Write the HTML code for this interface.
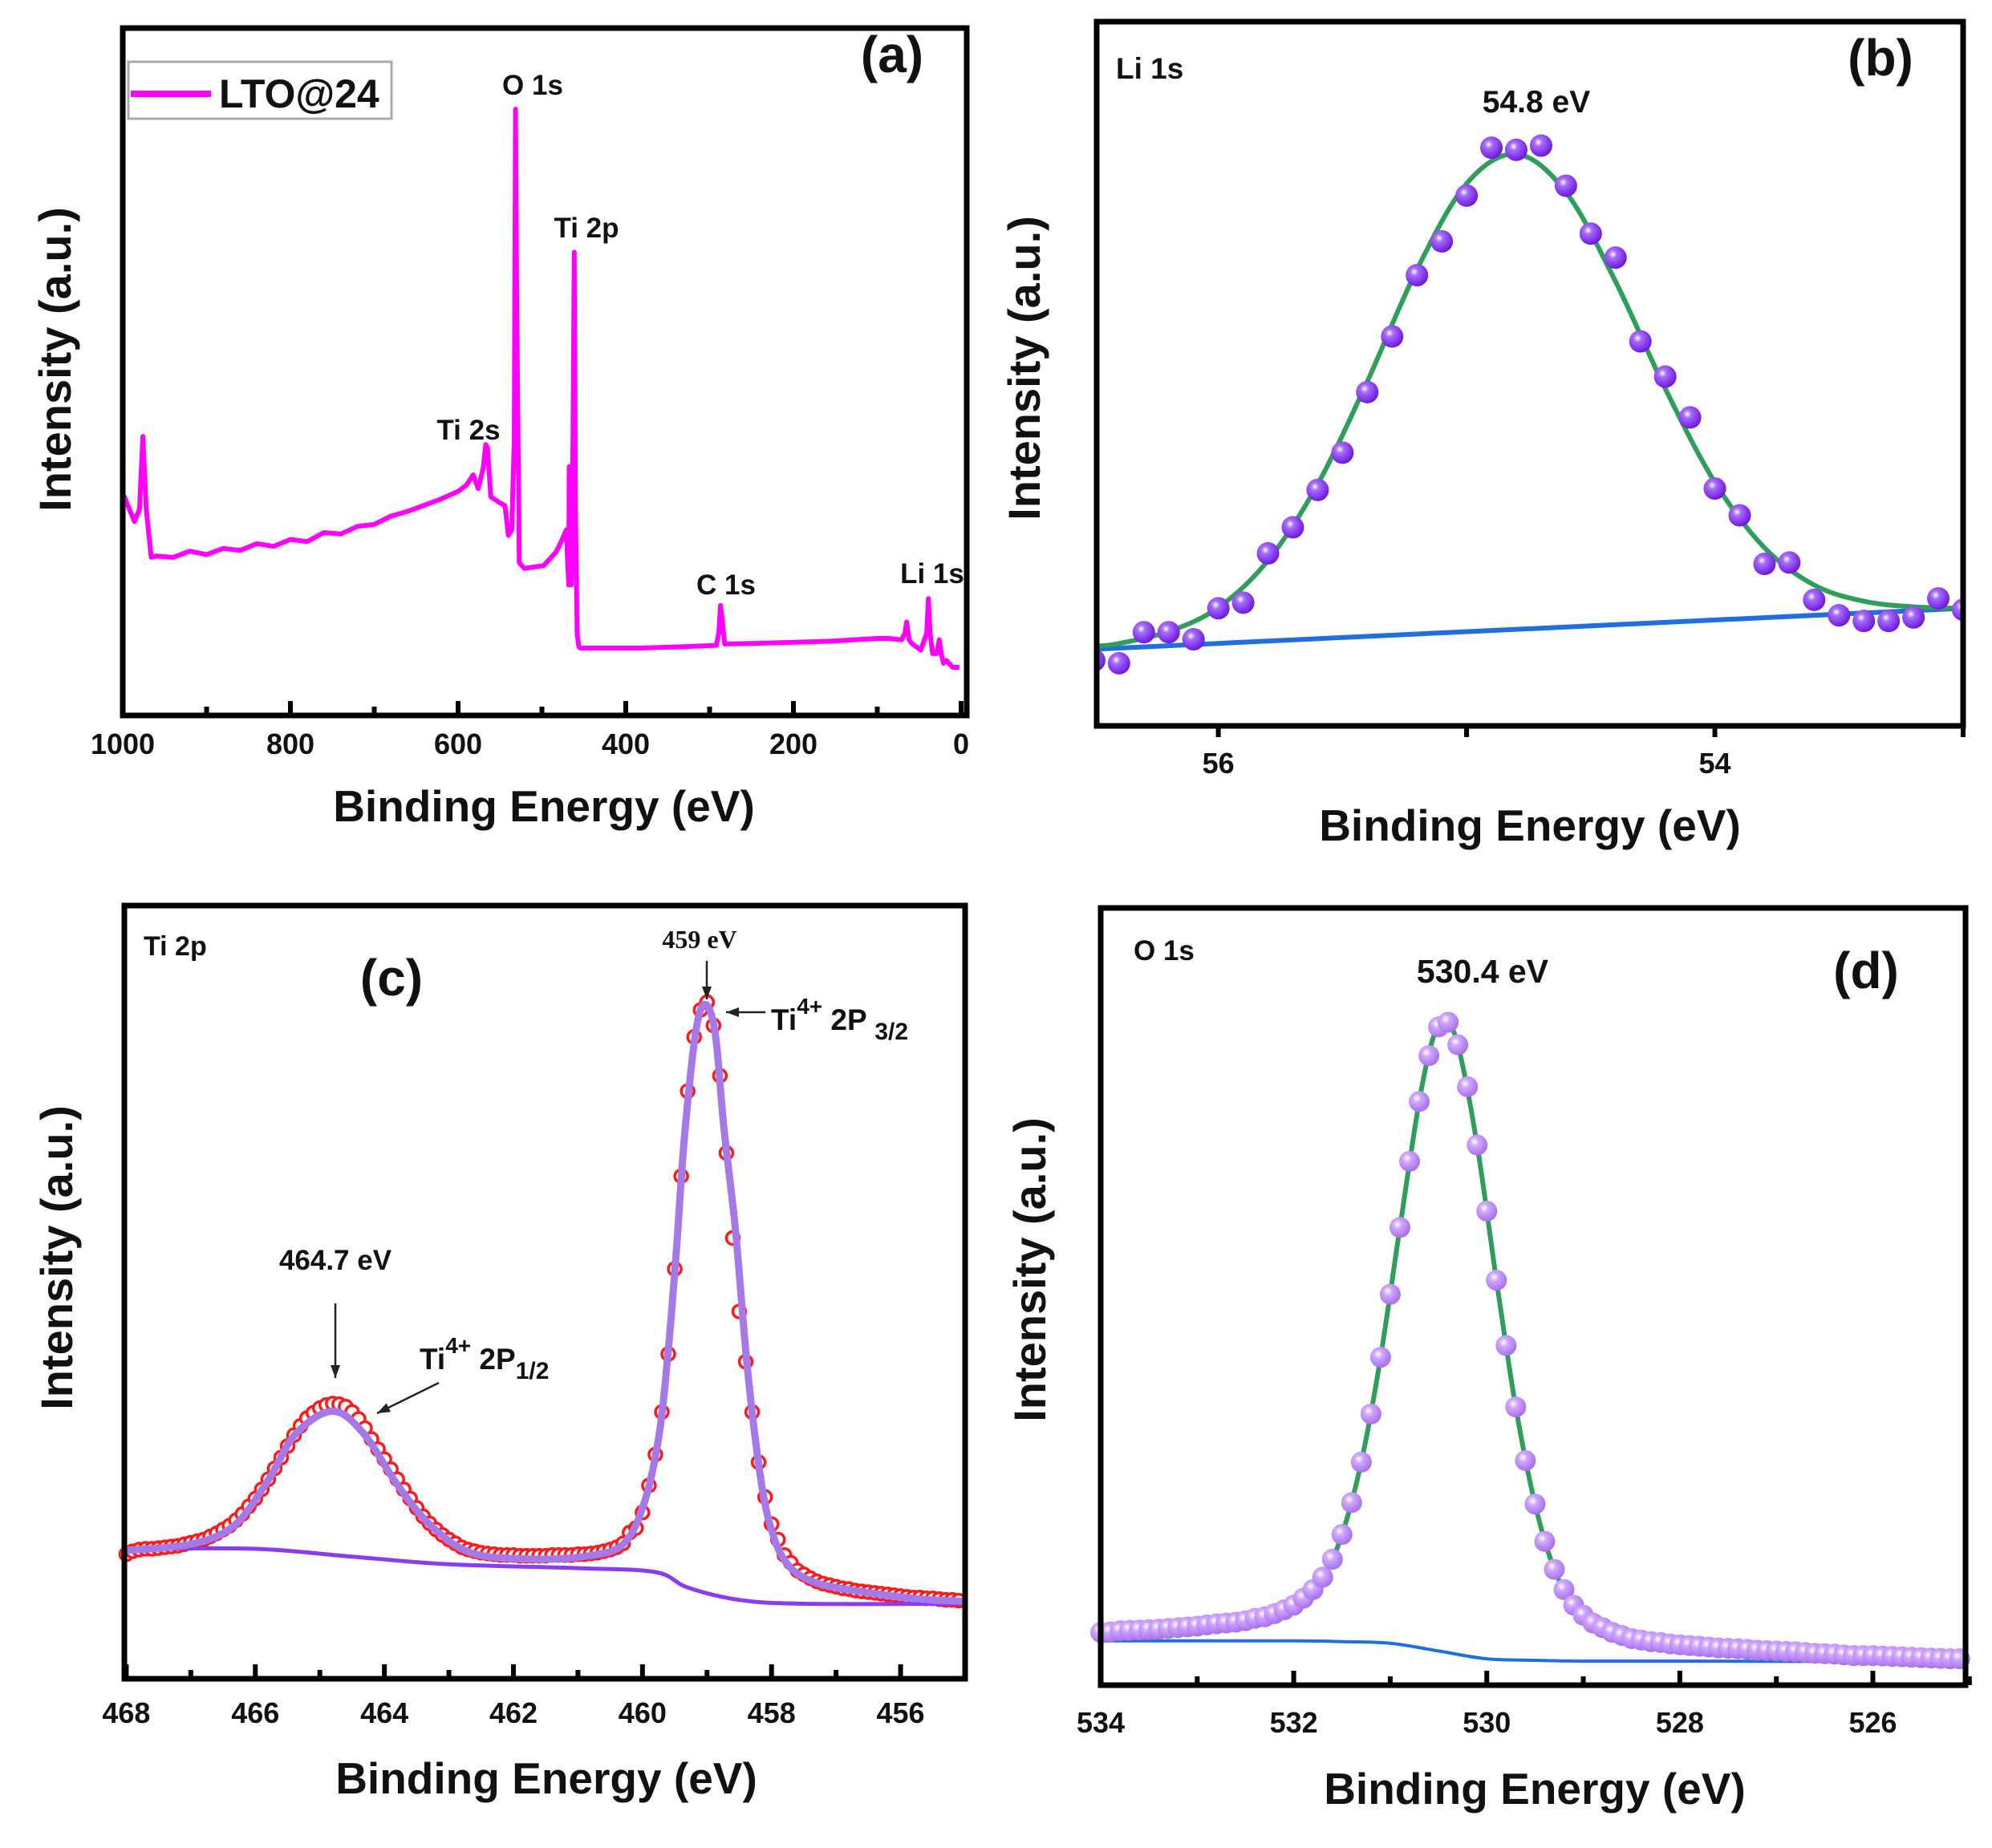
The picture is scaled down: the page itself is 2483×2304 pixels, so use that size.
<!DOCTYPE html>
<html><head><meta charset="utf-8"><title>XPS spectra LTO@24</title>
<style>
html,body{margin:0;padding:0;background:#fff;}
svg{display:block;}
text{font-family:"Liberation Sans",sans-serif;font-weight:bold;fill:#111;}
.serif{font-family:"Liberation Serif",serif;}
</style></head>
<body>
<svg id="fig" xmlns="http://www.w3.org/2000/svg" width="2483" height="2304" viewBox="0 0 2483 2304">
<defs>
<radialGradient id="gB" cx="0.38" cy="0.35" r="0.7"><stop offset="0" stop-color="#ffffff"/><stop offset="0.25" stop-color="#a66cff"/><stop offset="1" stop-color="#6a10d8"/></radialGradient>
<radialGradient id="gD" cx="0.38" cy="0.35" r="0.7"><stop offset="0" stop-color="#ffffff"/><stop offset="0.3" stop-color="#cfa6ff"/><stop offset="1" stop-color="#a56ae8"/></radialGradient>
</defs>
<g id="layer"></g>
</svg>
<script>
// ---------- Panel (a) survey data ----------
const aEnergy = [1000,998,986,980,976,972,966,960,940,920,900,880,860,840,820,800,780,760,740,720,700,680,660,640,620,600,590,582,576,570,567,565,561,551,544,540,536,533,531.5,530,527,521,498,483,475,471,468,467.5,466,465,463,461.4,460,458,456,454.5,420,384,330,292,289,287,285,282,240,155,100,86,71,67,65,62,59,48,41,39,37,34,29,26,23.6,21,17.5,10,2,-6.7];
const aIntensity = [31,31.8,28.2,30,40.6,30,23,23.2,23.0,23.9,23.4,24.3,24.0,25.0,24.6,25.6,25.3,26.6,26.4,27.5,27.8,29.0,29.7,30.6,31.5,32.6,33.5,35,33,36,39.4,39,31.8,31,30.5,26.2,27,40,88.2,60,22.2,21.4,21.8,23.8,25.8,27,19,36.2,30,19,40,67.4,30,12,10,9.8,9.8,9.8,10,10.2,12,16,14,10.4,10.5,10.8,11.2,11.2,11,12,13.6,11,10.5,9.5,12,17,12,9,9,11,9,7.6,8,7,7];
const aXTicks = [1000,800,600,400,200,0];
const aXMinor = [900,700,500,300,100];

// ---------- Panel (b) Li 1s ----------
const bData = [9.3,8.9,13.3,13.3,12.3,16.7,17.5,24.5,28.2,33.5,38.8,47.4,55.3,64.0,68.8,75.3,82.1,81.8,82.4,76.7,69.9,66.5,54.6,49.6,43.8,33.7,29.9,23.0,23.2,17.9,15.7,14.9,14.9,15.4,18.1,16.5];
const bDataEnergy = [56.5,56.4,56.3,56.2,56.1,56.0,55.9,55.8,55.7,55.6,55.5,55.4,55.3,55.2,55.1,55.0,54.9,54.8,54.7,54.6,54.5,54.4,54.3,54.2,54.1,54.0,53.9,53.8,53.7,53.6,53.5,53.4,53.3,53.2,53.1,53.0];
const bFitEnergy = [56.49,56.4,56.2,56.0,55.8,55.6,55.4,55.2,55.0,54.8,54.6,54.4,54.2,54.0,53.8,53.6,53.4,53.2,53.0];
const bFit = [11.3,11.7,13.4,16.8,23.5,34.3,48.9,64.8,77.0,81.2,75.8,63.1,47.9,34.6,25.3,20.0,17.7,16.9,16.7];
const bBaseEnergy = [56.49,53.0];
const bBase = [10.9,16.7];
const bXTicks = [56,55,54,53];
const bXLabels = ["56","","54",""];

// ---------- Panel (c) Ti 2p ----------
const cDataEnergy = [468,467.9,467.8,467.7,467.6,467.5,467.4,467.3,467.2,467.1,467,466.9,466.8,466.7,466.6,466.5,466.4,466.3,466.2,466.1,466,465.9,465.8,465.7,465.6,465.5,465.4,465.3,465.2,465.1,465,464.9,464.8,464.7,464.6,464.5,464.4,464.3,464.2,464.1,464,463.9,463.8,463.7,463.6,463.5,463.4,463.3,463.2,463.1,463,462.9,462.8,462.7,462.6,462.5,462.4,462.3,462.2,462.1,462,461.9,461.8,461.7,461.6,461.5,461.4,461.3,461.2,461.1,461,460.9,460.8,460.7,460.6,460.5,460.4,460.3,460.2,460.1,460,459.9,459.8,459.7,459.6,459.5,459.4,459.3,459.2,459.1,459,458.9,458.8,458.7,458.6,458.5,458.4,458.3,458.2,458.1,458,457.9,457.8,457.7,457.6,457.5,457.4,457.3,457.2,457.1,457,456.9,456.8,456.7,456.6,456.5,456.4,456.3,456.2,456.1,456,455.9,455.8,455.7,455.6,455.5,455.4,455.3,455.2,455.1];
const cData = [16.1,16.5,16.7,16.8,16.8,16.9,17.0,17.1,17.2,17.4,17.6,17.8,18.0,18.4,18.8,19.3,19.8,20.5,21.3,22.3,23.3,24.5,25.8,27.2,28.6,30.1,31.5,32.7,33.7,34.4,35.0,35.4,35.6,35.5,35.2,34.5,33.6,32.4,31.0,29.7,28.4,27.1,25.8,24.5,23.3,22.1,21.0,20.1,19.3,18.6,18.0,17.5,17.0,16.7,16.5,16.3,16.2,16.1,16.0,16.0,16.0,15.9,15.9,15.9,15.9,15.9,16.0,16.0,16.0,16.0,16.1,16.1,16.2,16.3,16.5,16.7,17.0,17.5,18.9,19.5,21.5,25.0,29.0,34.5,42.0,53.0,65.0,76.0,83.0,86.5,87.5,84.5,78.0,68.0,57.0,47.5,41.0,34.5,28.0,23.5,20.0,18.0,16.0,15.0,14.0,13.5,13.0,12.6,12.3,12.1,11.9,11.7,11.6,11.4,11.3,11.2,11.1,11.0,10.9,10.8,10.7,10.6,10.5,10.5,10.4,10.4,10.3,10.2,10.2,10.1];
const cFitEnergy = [468,467.0,466.33,465.8,465.37,464.8,464.32,463.8,463.28,462.66,461.8,460.92,460.3,459.96,459.74,459.61,459.48,459.35,459.17,459.02,458.87,458.74,458.56,458.39,458.21,458.04,457.78,457.34,456.56,455.69,455.0];
const cFit = [16.6,17.4,19.8,25.7,31.7,34.6,31.7,25.1,19.8,16.3,15.5,15.8,17.4,23.1,31.7,41.6,54.8,70.0,83.9,87.2,83.3,71.4,58.1,41.6,28.4,20.4,15.1,12.5,11.2,10.3,10.0];
const cBaseEnergy = [468,466,464.5,463,461,459.8,459.3,458.5,457.5,455];
const cBase = [16.8,16.8,15.8,14.8,14.3,13.8,11.8,10.2,9.7,9.7];
const cXTicks = [468,466,464,462,460,458,456];
const cXMinor = [467,465,463,461,459,457];

// ---------- Panel (d) O 1s ----------
const dDataEnergy = [534,533.9,533.8,533.7,533.6,533.5,533.4,533.3,533.2,533.1,533,532.9,532.8,532.7,532.6,532.5,532.4,532.3,532.2,532.1,532,531.9,531.8,531.7,531.6,531.5,531.4,531.3,531.2,531.1,531,530.9,530.8,530.7,530.6,530.5,530.4,530.3,530.2,530.1,530,529.9,529.8,529.7,529.6,529.5,529.4,529.3,529.2,529.1,529,528.9,528.8,528.7,528.6,528.5,528.4,528.3,528.2,528.1,528,527.9,527.8,527.7,527.6,527.5,527.4,527.3,527.2,527.1,527,526.9,526.8,526.7,526.6,526.5,526.4,526.3,526.2,526.1,526,525.9,525.8,525.7,525.6,525.5,525.4,525.3,525.2,525.1];
const dData = [6.8,6.85,7.0,7.05,7.1,7.15,7.2,7.3,7.4,7.5,7.6,7.75,7.9,8.0,8.1,8.3,8.6,8.8,9.2,9.7,10.3,11.2,12.3,13.9,16.2,19.4,23.5,28.7,34.9,42.2,50.3,58.9,67.4,75.1,81.0,84.7,85.3,82.4,77.0,69.5,61.0,52.1,43.7,35.8,28.9,23.3,18.5,14.9,12.3,10.3,9.0,8.0,7.4,6.8,6.4,6.0,5.8,5.6,5.5,5.3,5.2,5.1,5.0,4.9,4.8,4.75,4.7,4.6,4.5,4.45,4.4,4.35,4.3,4.2,4.1,4.05,4.0,3.9,3.8,3.8,3.8,3.75,3.7,3.65,3.6,3.55,3.5,3.45,3.4,3.4];
const dFitEnergy = [534,533,532.5,532,531.7,531.5,531.3,531.1,530.9,530.7,530.55,530.42,530.3,530.1,529.9,529.7,529.5,529.3,529.1,528.9,528.6,528,527,526,525.05];
const dFit = [6.8,7.6,8.3,10.3,13.9,19.4,28.7,42.2,58.9,75.1,83.5,85.0,82.4,69.5,52.1,35.8,23.3,14.9,10.3,8.0,6.4,5.2,4.4,3.8,3.4];
const dBaseEnergy = [534,532,531.5,531,530.5,530,529.5,529,528,525.05];
const dBase = [5.7,5.7,5.6,5.4,4.4,3.4,3.2,3.1,3.1,3.0];
const dXTicks = [534,532,530,528,526];
const dXMinor = [533,531,529,527,525];

const NS = "http://www.w3.org/2000/svg";
const layer = document.getElementById('layer');
function el(tag, attrs, parent){
  const e = document.createElementNS(NS, tag);
  for (const k in attrs) e.setAttribute(k, attrs[k]);
  (parent||layer).appendChild(e);
  return e;
}
function scales(p){
  return {
    x: v => p.x0 + (v - p.d0)/(p.d1 - p.d0)*(p.x1 - p.x0),
    y: v => p.yb - v/100*(p.yb - p.yt)
  };
}
function linePath(xs, ys, s){
  return xs.map((v,i)=>(i?'L':'M')+s.x(v).toFixed(1)+' '+s.y(ys[i]).toFixed(1)).join(' ');
}
function smoothPath(xs, ys, s){
  const P = xs.map((v,i)=>[s.x(v), s.y(ys[i])]);
  let d = 'M'+P[0][0].toFixed(1)+' '+P[0][1].toFixed(1);
  for (let i=0;i<P.length-1;i++){
    const p0=P[Math.max(0,i-1)], p1=P[i], p2=P[i+1], p3=P[Math.min(P.length-1,i+2)];
    const c1=[p1[0]+(p2[0]-p0[0])/6, p1[1]+(p2[1]-p0[1])/6];
    const c2=[p2[0]-(p3[0]-p1[0])/6, p2[1]-(p3[1]-p1[1])/6];
    d += ' C'+c1[0].toFixed(1)+' '+c1[1].toFixed(1)+' '+c2[0].toFixed(1)+' '+c2[1].toFixed(1)+' '+p2[0].toFixed(1)+' '+p2[1].toFixed(1);
  }
  return d;
}
function frame(p, name){
  const r = el('rect',{x:p.x0,y:p.yt,width:p.x1-p.x0,height:p.yb-p.yt,fill:'none',stroke:'#000','stroke-width':7});
  
  
}
function ticks(p, s, major, minor, labels, inward, labelY, name){
  const g = el('g',{});
  
  
  major.forEach((v,i)=>{
    const x = s.x(v);
    el('line',{x1:x,x2:x,y1:p.yb,y2:inward?p.yb-18:p.yb+14,stroke:'#000','stroke-width':6},g);
    const lab = labels ? labels[i] : String(v);
    if (lab !== ''){
      const t = el('text',{x:x,y:labelY,'text-anchor':'middle','font-size':36},g);
      t.textContent = lab;
      
      
    }
  });
  (minor||[]).forEach(v=>{
    const x = s.x(v);
    el('line',{x1:x,x2:x,y1:p.yb,y2:p.yb-11,stroke:'#000','stroke-width':6},g);
  });
}
function txt(x,y,str,size,anchor,name,extra){
  const t = el('text',Object.assign({x:x,y:y,'font-size':size,'text-anchor':anchor||'start'},extra||{}));
  t.textContent = str;
  
  
  return t;
}
function ytitle(x,y,name){
  const t = el('text',{x:0,y:0,'font-size':56,'text-anchor':'middle',transform:'translate('+x+','+y+') rotate(-90)'});
  t.textContent = 'Intensity (a.u.)';
  
  
}
function arrow(x1,y1,x2,y2,name){
  const g = el('g',{});
  
  
  el('line',{x1:x1,y1:y1,x2:x2,y2:y2,stroke:'#222','stroke-width':2.5},g);
  const a = Math.atan2(y2-y1,x2-x1), L=16, W=6;
  const bx=x2-L*Math.cos(a), by=y2-L*Math.sin(a);
  el('polygon',{points:x2+','+y2+' '+(bx+W*Math.sin(a))+','+(by-W*Math.cos(a))+' '+(bx-W*Math.sin(a))+','+(by+W*Math.cos(a)),fill:'#222'},g);
}

// ===== Panel a =====
const pa = {x0:153,x1:1205,yt:35,yb:892,d0:1000,d1:-6.7};
const sa = scales(pa);
const aLine = el('path',{d:linePath(aEnergy,aIntensity,sa),fill:'none',stroke:'#ff00ff','stroke-width':6,'stroke-linejoin':'round'});


frame(pa,'panel-a');
ticks(pa,sa,aXTicks,aXMinor,null,true,940,'panel-a');
const lg = el('g',{});


el('rect',{x:160,y:77,width:328,height:71,fill:'#fff',stroke:'#aaa','stroke-width':3},lg);
el('line',{x1:163,x2:263,y1:117,y2:117,stroke:'#ff00ff','stroke-width':8},lg);
txt(273,134,'LTO@24',50,'start','legend-label');
txt(664,118,'O 1s',35,'middle','label-o1s');
txt(731,296,'Ti 2p',35,'middle','label-ti2p');
txt(584,548,'Ti 2s',35,'middle','label-ti2s');
txt(905,741,'C 1s',35,'middle','label-c1s');
txt(1162,727,'Li 1s',35,'middle','label-li1s');
txt(1112,90,'(a)',64,'middle','panel-a-tag');
txt(678,1024,'Binding Energy (eV)',55,'middle','panel-a-x-title');
ytitle(88,448,'panel-a-y-title');

// ===== Panel b =====
const pb = {x0:1367,x1:2447,yt:27,yb:905,d0:56.49,d1:53.0};
const sb = scales(pb);
const bBl = el('path',{d:linePath(bBaseEnergy,bBase,sb),fill:'none',stroke:'#1f6fe0','stroke-width':6});


const bF = el('path',{d:smoothPath(bFitEnergy,bFit,sb),fill:'none',stroke:'#2e9e5b','stroke-width':6});


bDataEnergy.forEach((v,i)=>{
  const c = el('circle',{cx:sb.x(v),cy:sb.y(bData[i]),r:14,fill:'url(#gB)'});
  
  
});
el('rect',{x:1300,y:0,width:67,height:960,fill:'#fff'});
el('rect',{x:2447,y:0,width:36,height:960,fill:'#fff'});
frame(pb,'panel-b');
ticks(pb,sb,bXTicks,null,bXLabels,false,964,'panel-b');
txt(1391,98,'Li 1s',37,'start','label-li1s-region');
txt(1915,140,'54.8 eV',39,'middle','label-li1s-peak');
txt(2344,94,'(b)',64,'middle','panel-b-tag');
txt(1907,1048,'Binding Energy (eV)',55,'middle','panel-b-x-title');
ytitle(1296,459,'panel-b-y-title');

// ===== Panel c =====
const pc = {x0:155,x1:1203,yt:1129,yb:2093,d0:468.03,d1:455};
const sc = scales(pc);
cDataEnergy.forEach((v,i)=>{
  const c = el('circle',{cx:sc.x(v),cy:sc.y(cData[i]),r:8,fill:'#fff',stroke:'#ff1a1a','stroke-width':3.5});
  
  
});
const cBl = el('path',{d:smoothPath(cBaseEnergy,cBase,sc),fill:'none',stroke:'#8a3cf0','stroke-width':5});


const cF = el('path',{d:smoothPath(cFitEnergy,cFit,sc),fill:'none',stroke:'#a57ae8','stroke-width':9});


frame(pc,'panel-c');
ticks(pc,sc,cXTicks,cXMinor,null,true,2148,'panel-c');
txt(179,1191,'Ti 2p',34,'start','label-ti2p-region');
txt(488,1241,'(c)',64,'middle','panel-c-tag');
txt(872,1182,'459 eV',32,'middle','label-459ev',{class:'serif'});
arrow(881,1198,881,1246,'arrow-459');
arrow(954,1262,905,1262,'arrow-2p32');
const t32 = txt(961,1284,'Ti',37,'start','label-ti4-2p32');
const s1 = el('tspan',{dy:-20,'font-size':28},t32); s1.textContent='4+';
const s2 = el('tspan',{dy:20},t32); s2.textContent=' 2P ';
const s3 = el('tspan',{dy:12,'font-size':30},t32); s3.textContent='3/2';
txt(418,1583,'464.7 eV',35,'middle','label-464ev');
arrow(418,1625,418,1718,'arrow-464');
const t12 = txt(523,1707,'Ti',37,'start','label-ti4-2p12');
const u1 = el('tspan',{dy:-20,'font-size':28},t12); u1.textContent='4+';
const u2 = el('tspan',{dy:20},t12); u2.textContent=' 2P';
const u3 = el('tspan',{dy:12,'font-size':30},t12); u3.textContent='1/2';
arrow(547,1724,470,1762,'arrow-2p12');
txt(681,2236,'Binding Energy (eV)',55,'middle','panel-c-x-title');
ytitle(90,1568,'panel-c-y-title');

// ===== Panel d =====
const pd = {x0:1372,x1:2450,yt:1132,yb:2101,d0:534,d1:525.04};
const sd = scales(pd);
const dBl = el('path',{d:smoothPath(dBaseEnergy,dBase,sd),fill:'none',stroke:'#1f6fe0','stroke-width':4});


const dF = el('path',{d:smoothPath(dFitEnergy,dFit,sd),fill:'none',stroke:'#2e9e5b','stroke-width':6});


dDataEnergy.forEach((v,i)=>{
  const c = el('circle',{cx:sd.x(v),cy:sd.y(dData[i]),r:13,fill:'url(#gD)'});
  
  
});
frame(pd,'panel-d');
ticks(pd,sd,dXTicks,dXMinor,null,true,2160,'panel-d');
txt(1413,1197,'O 1s',35,'start','label-o1s-region');
txt(1848,1225,'530.4 eV',41,'middle','label-o1s-peak');
txt(2326,1232,'(d)',64,'middle','panel-d-tag');
txt(1913,2249,'Binding Energy (eV)',55,'middle','panel-d-x-title');
ytitle(1303,1583,'panel-d-y-title');
</script>
</body></html>
